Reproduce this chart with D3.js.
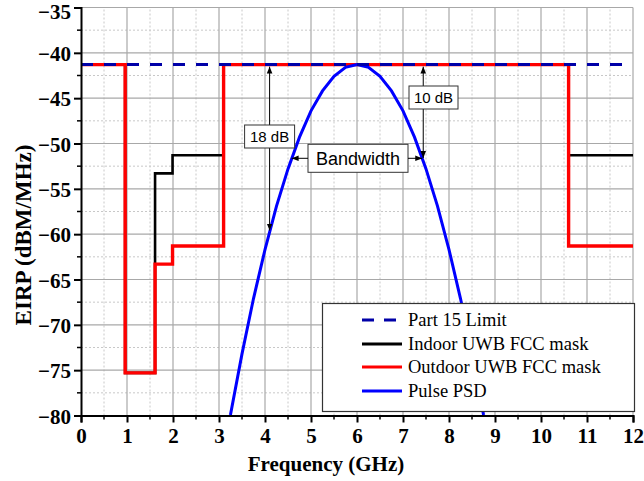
<!DOCTYPE html>
<html>
<head>
<meta charset="utf-8">
<script src="https://cdn.jsdelivr.net/npm/d3@7"></script>
<style>
  html, body { margin: 0; padding: 0; background: #fff; }
  svg { display: block; }
</style>
</head>
<body>
<svg id="chart" width="644" height="481"></svg>
<script>
// FCC UWB emission masks (frequency in GHz, EIRP in dBm/MHz), step corners
const part15Freq = [0, 12];
const part15Level = [-41.3, -41.3];

const indoorFreq  = [0, 0.96, 0.96, 1.61, 1.61, 1.99, 1.99, 3.1, 3.1, 10.6, 10.6, 12];
const indoorLevel = [-41.3, -41.3, -75.3, -75.3, -53.3, -53.3, -51.3, -51.3, -41.3, -41.3, -51.3, -51.3];

const outdoorFreq  = [0, 0.96, 0.96, 1.61, 1.61, 1.99, 1.99, 3.1, 3.1, 10.6, 10.6, 12];
const outdoorLevel = [-41.3, -41.3, -75.3, -75.3, -63.3, -63.3, -61.3, -61.3, -41.3, -41.3, -61.3, -61.3];

// Pulse power spectral density
const psdFreq  = [3.15, 3.25, 3.5, 3.75, 4.0, 4.25, 4.5, 4.75, 5.0, 5.25, 5.5, 5.75, 6.0,
                  6.25, 6.5, 6.75, 7.0, 7.25, 7.5, 7.75, 8.0, 8.25, 8.5, 8.75, 8.85];
const psdLevel = [-82.0, -79.9, -73.2, -67.1, -61.7, -56.9, -52.8, -49.3, -46.4, -44.2, -42.6, -41.6, -41.3,
                  -41.6, -42.6, -44.2, -46.4, -49.3, -52.8, -56.9, -61.7, -67.1, -73.2, -79.9, -82.0];

const xTicks = [0, 1, 2, 3, 4, 5, 6, 7, 8, 9, 10, 11, 12];
const yTicks = [-35, -40, -45, -50, -55, -60, -65, -70, -75, -80];

const legendLabels = ["Part 15 Limit", "Indoor UWB FCC mask", "Outdoor UWB FCC mask", "Pulse PSD"];

// Annotation values
const peakLevel = -41.3;
const bwLowFreq = 4.6, bwHighFreq = 7.44, bwLevel = -51.6;
const drop18Freq = 4.1, drop18Level = -59.6;

const svg = d3.select("#chart");
const margin = { left: 81, right: 11, top: 7.5, bottom: 65.5 };
const W = 644, H = 481;
const x = d3.scaleLinear().domain([0, 12]).range([margin.left, W - margin.right]);
const y = d3.scaleLinear().domain([-80, -35]).range([H - margin.bottom, margin.top]);

const serif = "'Liberation Serif', 'Times New Roman', serif";
const sans = "'Liberation Sans', Arial, sans-serif";

// defs: clip and arrow markers
const defs = svg.append("defs");
defs.append("clipPath").attr("id", "plotClip")
  .append("rect")
  .attr("x", x(0)).attr("y", y(-35))
  .attr("width", x(12) - x(0)).attr("height", y(-80) - y(-35));
defs.append("marker").attr("id", "arrow")
  .attr("viewBox", "0 0 10 10").attr("refX", 10).attr("refY", 5)
  .attr("markerWidth", 7).attr("markerHeight", 7)
  .attr("markerUnits", "userSpaceOnUse")
  .attr("orient", "auto-start-reverse")
  .append("path").attr("d", "M0,1 L10,5 L0,9 Z").attr("fill", "#000");

// grid
const grid = svg.append("g");
const minorX = d3.range(0.5, 12, 1);
const minorY = d3.range(-77.5, -35, 5);
grid.selectAll(".mx").data(minorX).join("line")
  .attr("x1", d => x(d)).attr("x2", d => x(d))
  .attr("y1", y(-80)).attr("y2", y(-35))
  .attr("stroke", "#c8c8c8").attr("stroke-width", 1).attr("stroke-dasharray", "2,2");
grid.selectAll(".my").data(minorY).join("line")
  .attr("x1", x(0)).attr("x2", x(12))
  .attr("y1", d => y(d)).attr("y2", d => y(d))
  .attr("stroke", "#c8c8c8").attr("stroke-width", 1).attr("stroke-dasharray", "2,2");
grid.selectAll(".gx").data(xTicks.slice(1)).join("line")
  .attr("x1", d => x(d)).attr("x2", d => x(d))
  .attr("y1", y(-80)).attr("y2", y(-35))
  .attr("stroke", "#a8a8a8").attr("stroke-width", 1.2);
grid.selectAll(".gy").data(yTicks.slice(0, -1)).join("line")
  .attr("x1", x(0)).attr("x2", x(12))
  .attr("y1", d => y(d)).attr("y2", d => y(d))
  .attr("stroke", "#a8a8a8").attr("stroke-width", 1.2);

// series
const plot = svg.append("g").attr("clip-path", "url(#plotClip)");
const line = (xs, ys) => d3.line().x((d, i) => x(xs[i])).y((d, i) => y(ys[i]))(xs);

plot.append("path").attr("d", line(indoorFreq, indoorLevel))
  .attr("fill", "none").attr("stroke", "#000").attr("stroke-width", 2.6);
plot.append("path").attr("d", line(outdoorFreq, outdoorLevel))
  .attr("fill", "none").attr("stroke", "#ff0000").attr("stroke-width", 3.4);
plot.append("path").attr("d", line(psdFreq, psdLevel))
  .attr("fill", "none").attr("stroke", "#0000ff").attr("stroke-width", 3);
plot.append("path").attr("d", line(part15Freq, part15Level))
  .attr("fill", "none").attr("stroke", "#0000a8").attr("stroke-width", 3)
  .attr("stroke-dasharray", "12,11");

// annotations
const ann = svg.append("g");
function arrowLine(x1, y1, x2, y2, both) {
  const l = ann.append("line").attr("x1", x1).attr("y1", y1).attr("x2", x2).attr("y2", y2)
    .attr("stroke", "#000").attr("stroke-width", 1)
    .attr("marker-end", "url(#arrow)");
  if (both) l.attr("marker-start", "url(#arrow)");
}
function labelBox(cx, cy, w, h, text, size) {
  ann.append("rect").attr("x", cx - w / 2).attr("y", cy - h / 2).attr("width", w).attr("height", h)
    .attr("fill", "#fff").attr("stroke", "#333").attr("stroke-width", 1);
  ann.append("text").attr("x", cx).attr("y", cy).attr("dy", "0.36em")
    .attr("text-anchor", "middle").attr("font-family", sans).attr("font-size", size)
    .attr("fill", "#000").text(text);
}
// 18 dB
arrowLine(x(drop18Freq), y(peakLevel) + 2, x(drop18Freq), y(drop18Level), true);
labelBox(x(drop18Freq), 136.5, 50, 23, "18 dB", 15);
// 10 dB
arrowLine(x(bwHighFreq), y(peakLevel) + 2, x(bwHighFreq), y(bwLevel), true);
labelBox(433.5, 97.5, 49, 23, "10 dB", 15);
// Bandwidth
labelBox(358, 158.3, 100, 28, "Bandwidth", 18);
arrowLine(308, 158.3, x(bwLowFreq) - 1, 158.3, false);
arrowLine(408, 158.3, x(bwHighFreq) - 1, 158.3, false);

// axes
const axisG = svg.append("g");
// minor ticks
axisG.selectAll(".mtx").data(minorX).join("line")
  .attr("x1", d => x(d)).attr("x2", d => x(d))
  .attr("y1", y(-80)).attr("y2", y(-80) + 4).attr("stroke", "#000").attr("stroke-width", 1.5);
axisG.selectAll(".mty").data(minorY).join("line")
  .attr("x1", x(0)).attr("x2", x(0) - 4)
  .attr("y1", d => y(d)).attr("y2", d => y(d)).attr("stroke", "#000").attr("stroke-width", 1.5);

const xAxis = axisG.append("g").attr("transform", `translate(0,${y(-80)})`)
  .call(d3.axisBottom(x).tickValues(xTicks).tickFormat(d3.format("d")).tickSizeOuter(0).tickSize(7).tickPadding(6));
const yAxis = axisG.append("g").attr("transform", `translate(${x(0)},0)`)
  .call(d3.axisLeft(y).tickValues(yTicks).tickFormat(d3.format("d")).tickSizeOuter(0).tickSize(7).tickPadding(3));
[xAxis, yAxis].forEach(a => {
  a.select(".domain").attr("stroke", "#000").attr("stroke-width", 2);
  a.selectAll(".tick line").attr("stroke", "#000").attr("stroke-width", 2);
  a.selectAll(".tick text").attr("font-family", serif).attr("font-weight", "bold")
    .attr("font-size", 21).attr("fill", "#000");
});
yAxis.selectAll(".tick text").attr("dy", d => d === -35 ? "0.5em" : "0.36em");

// axis titles
svg.append("text").attr("x", 326).attr("y", 471)
  .attr("text-anchor", "middle").attr("font-family", serif).attr("font-weight", "bold")
  .attr("font-size", 21).text("Frequency (GHz)");
svg.append("text").attr("transform", `translate(31,235) rotate(-90)`)
  .attr("text-anchor", "middle").attr("font-family", serif).attr("font-weight", "bold")
  .attr("font-size", 23).text("EIRP (dBM/MHz)");

// legend
const lg = svg.append("g");
lg.append("rect").attr("x", 322.5).attr("y", 303.5).attr("width", 312).attr("height", 108)
  .attr("fill", "#fff").attr("stroke", "#333").attr("stroke-width", 1.2);
const legendStyles = [
  { color: "#0000a8", dash: "12,10" },
  { color: "#000000", dash: null },
  { color: "#ff0000", dash: null },
  { color: "#0000ff", dash: null }
];
const rowY = [320, 344, 367, 391];
legendLabels.forEach((lab, i) => {
  const l = lg.append("line").attr("x1", 362).attr("x2", 402).attr("y1", rowY[i]).attr("y2", rowY[i])
    .attr("stroke", legendStyles[i].color).attr("stroke-width", 3);
  if (legendStyles[i].dash) l.attr("stroke-dasharray", legendStyles[i].dash);
  lg.append("text").attr("x", 408).attr("y", rowY[i]).attr("dy", "0.35em")
    .attr("font-family", serif).attr("font-size", 18.5).attr("fill", "#000").text(lab);
});
</script>
</body>
</html>
